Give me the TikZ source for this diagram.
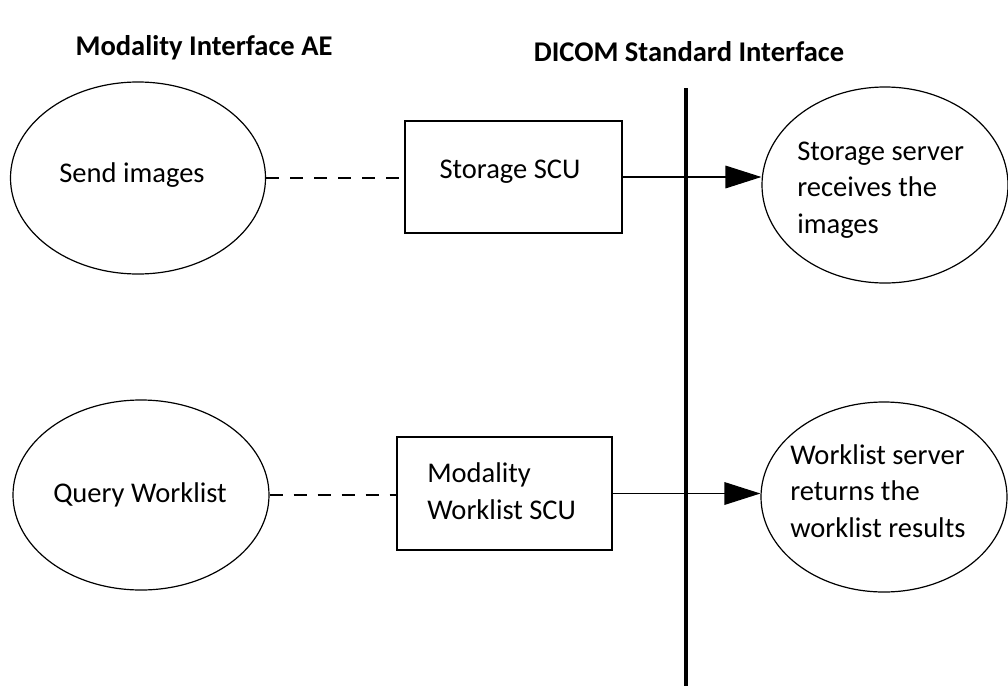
\documentclass[tikz,border=0pt]{standalone}
\usepackage{fontspec}
\setmainfont{Carlito}
\usetikzlibrary{shapes.geometric,arrows.meta}
\begin{document}
\begin{tikzpicture}[x=0.75pt,y=-0.75pt,
  oval/.style={draw,ellipse,line width=0.9pt,inner sep=0pt},
  box/.style={draw,rectangle,line width=0.9pt,inner sep=0pt},
  txt/.style={inner sep=0pt,font=\fontsize{21.4pt}{27.5pt}\selectfont,align=left},
  ttl/.style={inner sep=0pt,font=\fontsize{21.4pt}{27.5pt}\selectfont\bfseries},
  dashline/.style={line width=0.9pt,dash pattern=on 10pt off 8pt},
  arr/.style={line width=0.9pt,-{Triangle[length=27pt,width=17pt]}}
]
\path[use as bounding box] (0,0) rectangle (1008,686);
\clip (0,0) rectangle (1008,686);
% titles
\node[ttl] (t1) at (204,48) {Modality Interface AE};
\node[ttl] (t2) at (689,52) {DICOM Standard Interface};
% boundary line
\coordinate (vtop) at (686,88);
\coordinate (vbot) at (686,690);
\draw[line width=3.6pt] (vtop) -- (vbot);
% left ellipses
\node[oval,minimum width=255*0.75pt,minimum height=192*0.75pt] (e1) at (138,178) {};
\node[txt] (e1t) at (132,175) {Send images};
\node[oval,minimum width=256*0.75pt,minimum height=190*0.75pt] (e2) at (141,495) {};
\node[txt] (e2t) at (140,495) {Query Worklist};
% boxes
\node[box,minimum width=217*0.75pt,minimum height=112*0.75pt] (b1) at (513.5,177) {};
\node[txt] (b1t) at (510,172) {Storage SCU};
\node[box,minimum width=215*0.75pt,minimum height=113*0.75pt] (b2) at (504.5,493.5) {};
\node[txt,anchor=west] (b2t) at (427,491) {Modality\\Worklist SCU};
% right ellipses
\node[oval,minimum width=246*0.75pt,minimum height=196*0.75pt] (r1) at (885,185) {};
\node[txt,anchor=west] (r1t) at (797,190) {Storage server\\receives the\\images};
\node[oval,minimum width=246*0.75pt,minimum height=190*0.75pt] (r2) at (884,497) {};
\node[txt,anchor=west] (r2t) at (790,491) {Worklist server\\returns the\\worklist results};
% connectors
\draw[dashline] (e1.east) -- (e1.east -| b1.west);
\draw[dashline] (e2.east) -- (e2.east -| b2.west);
\draw[arr] (b1.east) -- (b1.east -| r1.west);
\draw[arr] (b2.east) -- (b2.east -| r2.west);
\end{tikzpicture}
\end{document}
